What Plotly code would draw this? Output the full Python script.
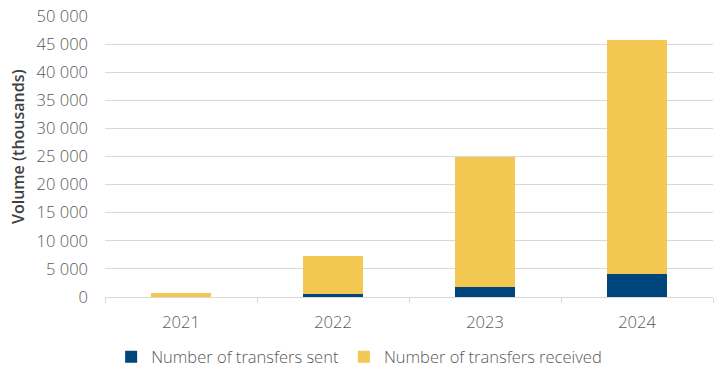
import plotly.graph_objects as go

years = ["2021", "2022", "2023", "2024"]
sent = [40, 550, 1850, 4100]
received = [760, 6750, 23050, 41650]
y_title = "Volume (thousands)"

fig = go.Figure()
fig.add_trace(go.Bar(x=years, y=sent, name="Number of transfers sent",
                     marker=dict(color="#00457B", line=dict(width=0)), width=0.4))
fig.add_trace(go.Bar(x=years, y=received, name="Number of transfers received",
                     marker=dict(color="#F2C752", line=dict(width=0)), width=0.4))

fig.update_layout(
    barmode="stack",
    width=724, height=378,
    margin=dict(l=97, r=19, t=8, b=89, autoexpand=False),
    paper_bgcolor="white", plot_bgcolor="white",
    separators=". ",
    font=dict(family="Open Sans", size=16.5, color="#595959", weight=300),
    showlegend=True,
    legend=dict(orientation="h", x=0.418, xanchor="center", y=-0.2135, yanchor="middle",
                font=dict(size=16.5, color="#595959", weight=300), itemwidth=30,
                traceorder="normal", tracegroupgap=0),
    xaxis=dict(showline=True, linecolor="#D9D9D9", linewidth=1, automargin=False,
               ticks="outside", tickson="boundaries", ticklen=5, tickcolor="#D9D9D9",
               ticklabelstandoff=10,
               tickfont=dict(size=16.5, color="#595959")),
    yaxis=dict(range=[0, 50000], dtick=5000,
               tickformat=",d", automargin=False, ticklabeloverflow="allow",
               showgrid=True, gridcolor="#D9D9D9", gridwidth=1,
               zeroline=False, showline=False, ticks="",
               ticklabelstandoff=16,
               tickfont=dict(size=16.5, color="#595959")),
    annotations=[dict(text=y_title, xref="paper", yref="paper", x=-0.143, y=0.534,
                      xanchor="center", yanchor="middle", textangle=-90, showarrow=False,
                      font=dict(family="Open Sans", size=16, color="#404040", weight=600))],
)

fig.write_html("out.html")
